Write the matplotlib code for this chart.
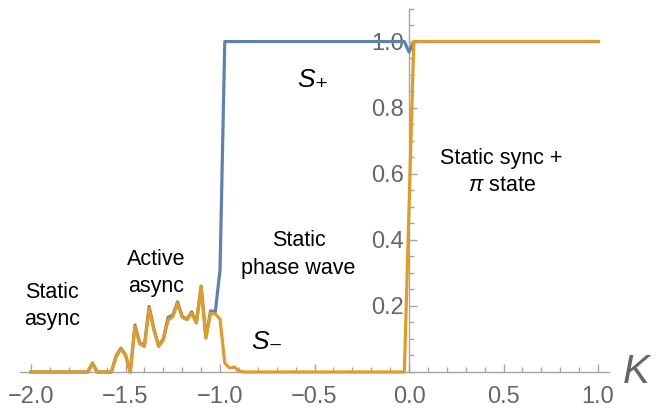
import matplotlib.pyplot as plt
from matplotlib.ticker import MultipleLocator, FixedLocator

plt.rcParams["font.family"] = ["Liberation Sans", "DejaVu Sans"]
plt.rcParams["mathtext.fontset"] = "custom"
plt.rcParams["mathtext.it"] = "Liberation Sans:italic"
plt.rcParams["mathtext.rm"] = "Liberation Sans"

# coupling K and order parameters
k_vals = [-2.0, -1.7, -1.675, -1.65, -1.575, -1.55, -1.525, -1.5, -1.475,
          -1.45, -1.425, -1.4, -1.375, -1.35, -1.325, -1.3, -1.275, -1.25,
          -1.225, -1.2, -1.175, -1.15, -1.125, -1.1, -1.075, -1.05, -1.025,
          -1.0, -0.975, -0.95, -0.925, -0.9, -0.875, -0.025, 0.0, 0.025, 1.0]
s_plus = [0.0, 0.0, 0.027, 0.0, 0.0, 0.048, 0.072, 0.052, 0.0,
          0.142, 0.088, 0.08, 0.198, 0.13, 0.08, 0.1, 0.165, 0.172,
          0.212, 0.168, 0.16, 0.182, 0.15, 0.26, 0.105, 0.185, 0.182,
          0.31, 1.0, 1.0, 1.0, 1.0, 1.0, 1.0, 0.968, 1.0, 1.0]
s_minus = [0.0, 0.0, 0.025, 0.0, 0.0, 0.045, 0.07, 0.05, 0.0,
           0.137, 0.085, 0.077, 0.193, 0.127, 0.077, 0.097, 0.157, 0.167,
           0.208, 0.165, 0.158, 0.178, 0.148, 0.258, 0.102, 0.178, 0.175,
           0.16, 0.027, 0.012, 0.015, 0.003, 0.0, 0.0, 0.5, 1.0, 1.0]

blue = "#5E81B5"
orange = "#E19C24"
axis_gray = "#a6a6a6"
label_gray = "#666666"

fig = plt.figure(figsize=(6.56, 4.11), dpi=100)
ax = fig.add_axes([0.03, 0.0949, 0.899, 0.8844])

ax.plot(k_vals, s_plus, color=blue, lw=2.3, clip_on=False, zorder=3)
ax.plot(k_vals, s_minus, color=orange, lw=2.3, clip_on=False, zorder=4)

ax.set_xlim(-2.06, 1.06)
ax.set_ylim(0, 1.1)

for side in ["top", "right"]:
    ax.spines[side].set_visible(False)
ax.spines["left"].set_position(("data", 0))
for side in ["left", "bottom"]:
    ax.spines[side].set_color(axis_gray)
    ax.spines[side].set_linewidth(1.0)

ax.xaxis.set_major_locator(FixedLocator([-2.0, -1.5, -1.0, -0.5, 0.0, 0.5, 1.0]))
ax.xaxis.set_minor_locator(MultipleLocator(0.1))
ax.set_xticklabels(["\u22122.0", "\u22121.5", "\u22121.0", "\u22120.5", "0.0", "0.5", "1.0"])
ax.yaxis.set_major_locator(FixedLocator([0.2, 0.4, 0.6, 0.8, 1.0]))
ax.yaxis.set_minor_locator(MultipleLocator(0.05))
ax.set_yticklabels(["0.2", "0.4", "0.6", "0.8", "1.0"])

ax.tick_params(which="both", direction="in", color=axis_gray, width=1.0,
               labelcolor=label_gray, labelsize=17)
ax.tick_params(which="major", length=6)
ax.tick_params(which="minor", length=3.5)
ax.tick_params(axis="x", pad=10)
ax.tick_params(axis="y", pad=4)

ax.text(1.13, 0.0, "K", fontsize=29, style="italic", color=label_gray,
        ha="left", va="center", clip_on=False)

txt = dict(fontsize=15.5, ha="center", va="center", color="black", linespacing=1.4)
ax.text(-1.89, 0.2, "Static\nasync", **txt)
ax.text(-1.34, 0.3, "Active\nasync", **txt)
ax.text(-0.585, 0.355, "Static\nphase wave", **txt)
ax.text(0.49, 0.605, "Static sync +\n$\\pi$ state", **txt)
ax.text(-0.51, 0.885, "S\u208a", fontsize=19, style="italic", ha="center", va="center")
ax.text(-0.75, 0.09, "S\u208b", fontsize=19, style="italic", ha="center", va="center")

fig.savefig("out.png", dpi=100)
